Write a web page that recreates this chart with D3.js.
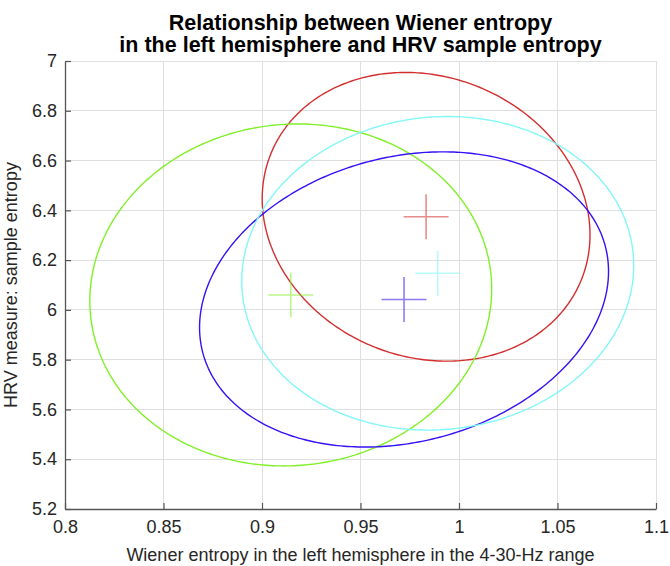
<!DOCTYPE html>
<html>
<head>
<meta charset="utf-8">
<script src="https://cdn.jsdelivr.net/npm/d3@7"></script>
<style>
  html, body { margin: 0; padding: 0; background: #fff; }
  svg { display: block; font-family: "Liberation Sans", Arial, sans-serif; }
</style>
</head>
<body>
<svg id="chart" width="670" height="566"></svg>
<script>
// ---- data ----
const seriesNames = ["red", "green", "blue", "cyan"];
const centerX = [0.9833, 0.9146, 0.9721, 0.9892];
const centerY = [6.374, 6.060, 6.042, 6.147];
const spreadX = [0.0832, 0.1020, 0.1038, 0.0995];
const spreadY = [0.580, 0.687, 0.593, 0.630];
const corr = [-0.125, 0.035, 0.19, 0.05];
const xTicks = [0.8, 0.85, 0.9, 0.95, 1, 1.05, 1.1];
const yTicks = [5.2, 5.4, 5.6, 5.8, 6, 6.2, 6.4, 6.6, 6.8, 7];
const xTickLabels = ["0.8", "0.85", "0.9", "0.95", "1", "1.05", "1.1"];
const yTickLabels = ["5.2", "5.4", "5.6", "5.8", "6", "6.2", "6.4", "6.6", "6.8", "7"];
const titleLines = ["Relationship between Wiener entropy", "in the left hemisphere and HRV sample entropy"];
const xTitle = "Wiener entropy in the left hemisphere in the 4-30-Hz range";
const yTitle = "HRV measure: sample entropy";

// ---- styles ----
const colors = { red: "#d42f2f", green: "#82f028", blue: "#3512f5", cyan: "#84f7f7" };
const margin = { left: 65, right: 14, top: 61, bottom: 57 };
const W = 670, H = 566;
const crossHalf = 22.5;
const tickFont = "18px", labelFont = "18px", titleFont = "21.5px";

const svg = d3.select("#chart");
const x = d3.scaleLinear().domain([0.8, 1.1]).range([margin.left, W - margin.right]);
const y = d3.scaleLinear().domain([5.2, 7]).range([H - margin.bottom, margin.top]);

// grid
const grid = svg.append("g");
grid.selectAll("line.gx").data(xTicks).enter().append("line")
  .attr("x1", d => x(d)).attr("x2", d => x(d))
  .attr("y1", y(5.2)).attr("y2", y(7))
  .attr("stroke", "#dfdfdf").attr("stroke-width", 1).attr("shape-rendering", "crispEdges");
grid.selectAll("line.gy").data(yTicks).enter().append("line")
  .attr("y1", d => y(d)).attr("y2", d => y(d))
  .attr("x1", x(0.8)).attr("x2", x(1.1))
  .attr("stroke", "#dfdfdf").attr("stroke-width", 1).attr("shape-rendering", "crispEdges");

// axes
const xAxis = d3.axisBottom(x).tickValues(xTicks).tickSizeInner(-6).tickSizeOuter(0)
  .tickFormat((d, i) => xTickLabels[i]).tickPadding(11);
const yAxis = d3.axisLeft(y).tickValues(yTicks).tickSizeInner(-6).tickSizeOuter(0)
  .tickFormat((d, i) => yTickLabels[i]).tickPadding(8);

const gx = svg.append("g").attr("transform", `translate(0,${y(5.2)})`).call(xAxis);
const gy = svg.append("g").attr("transform", `translate(${x(0.8)},0)`).call(yAxis);
[gx, gy].forEach(g => {
  g.select(".domain").attr("stroke", "#555").attr("stroke-width", 1.3);
  g.selectAll(".tick line").attr("stroke", "#555").attr("stroke-width", 1.2);
  g.selectAll(".tick text").attr("fill", "#262626").style("font-size", tickFont)
    .style("font-family", "'Liberation Sans', Arial, sans-serif");
});

// ellipses
const clip = svg.append("clipPath").attr("id", "clip").append("rect")
  .attr("x", x(0.8)).attr("y", y(7)).attr("width", x(1.1) - x(0.8)).attr("height", y(5.2) - y(7));
const plot = svg.append("g").attr("clip-path", "url(#clip)");
const line = d3.line().x(d => x(d[0])).y(d => y(d[1]));
seriesNames.forEach((name, i) => {
  const pts = d3.range(0, 361).map(a => {
    const t = a * Math.PI / 180;
    const r = corr[i];
    return [centerX[i] + spreadX[i] * Math.cos(t),
            centerY[i] + spreadY[i] * (r * Math.cos(t) + Math.sqrt(1 - r * r) * Math.sin(t))];
  });
  plot.append("path").attr("d", line(pts)).attr("fill", "none")
    .attr("stroke", colors[name]).attr("stroke-width", 1.4);
});
seriesNames.forEach((name, i) => {
  const cx = x(centerX[i]), cy = y(centerY[i]);
  const g = plot.append("g").attr("stroke", colors[name]).attr("stroke-width", 1.6).attr("opacity", 0.55);
  g.append("line").attr("x1", cx - crossHalf).attr("x2", cx + crossHalf).attr("y1", cy).attr("y2", cy);
  g.append("line").attr("x1", cx).attr("x2", cx).attr("y1", cy - crossHalf).attr("y2", cy + crossHalf);
});

// titles
const cxMid = (x(0.8) + x(1.1)) / 2;
svg.append("text").attr("x", cxMid).attr("y", 30).attr("text-anchor", "middle")
  .style("font-size", titleFont).style("font-weight", "bold").attr("fill", "#000").text(titleLines[0]);
svg.append("text").attr("x", cxMid).attr("y", 52).attr("text-anchor", "middle")
  .style("font-size", titleFont).style("font-weight", "bold").attr("fill", "#000").text(titleLines[1]);
svg.append("text").attr("x", cxMid).attr("y", 561).attr("text-anchor", "middle")
  .style("font-size", labelFont).attr("fill", "#262626").text(xTitle);
svg.append("text").attr("transform", `translate(17,${(y(5.2) + y(7)) / 2}) rotate(-90)`)
  .attr("text-anchor", "middle").style("font-size", labelFont).attr("fill", "#262626").text(yTitle);
</script>
</body>
</html>
